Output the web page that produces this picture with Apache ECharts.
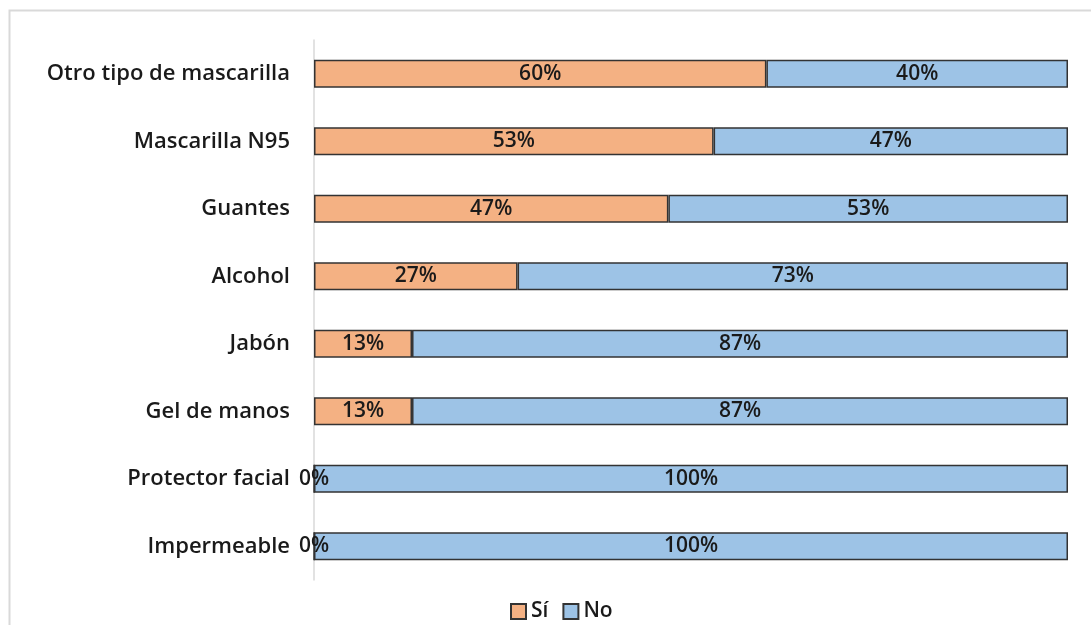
<!DOCTYPE html>
<html>
<head>
<meta charset="utf-8">
<script src="https://cdn.jsdelivr.net/npm/echarts@6/dist/echarts.min.js"></script>
<style>
html,body{margin:0;padding:0;background:#fff;}
#c{width:1091px;height:625px;}
</style>
</head>
<body>
<div id="c"></div>
<script>
const categories = ["Otro tipo de mascarilla","Mascarilla N95","Guantes","Alcohol","Jabón","Gel de manos","Protector facial","Impermeable"];
const siValues = [60,53,47,27,13,13,0,0];
const noValues = [40,47,53,73,87,87,100,100];
const seriesNames = ["Sí","No"];

const chart = echarts.init(document.getElementById('c'));
const font = "'Open Sans', 'Noto Sans', sans-serif";
const labelStyle = {
  show: true, position: 'inside', formatter: '{c}%',
  color: '#1a1a1a', fontFamily: font, fontSize: 21, fontWeight: 600
};
chart.setOption({
  animation: false,
  backgroundColor: '#fff',
  graphic: [{
    type: 'rect', shape: {x: 9.5, y: 10.5, width: 1200, height: 800},
    style: {fill: 'none', stroke: '#d9d9d9', lineWidth: 2}, silent: true, z: -10
  }],
  grid: {left: 314, right: 23, top: 40, bottom: 45},
  xAxis: {type: 'value', min: 0, max: 100, show: false},
  yAxis: {
    type: 'category', data: categories, inverse: true,
    axisLine: {show: true, lineStyle: {color: '#d9d9d9', width: 1.5}},
    axisTick: {show: false},
    axisLabel: {color: '#1a1a1a', fontFamily: font, fontSize: 22, fontWeight: 600, margin: 24}
  },
  legend: {
    bottom: -2, left: 505, itemWidth: 15, itemHeight: 15, itemGap: 14,
    icon: 'rect',
    textStyle: {color: '#1a1a1a', fontFamily: font, fontSize: 21, fontWeight: 600},
    data: seriesNames
  },
  series: [
    {name: seriesNames[0], type: 'bar', stack: 't', data: siValues, barWidth: 28,
     itemStyle: {color: '#F4B183', borderColor: '#333', borderWidth: 1.5},
     label: labelStyle},
    {name: seriesNames[1], type: 'bar', stack: 't', data: noValues, barWidth: 28,
     itemStyle: {color: '#9DC3E6', borderColor: '#333', borderWidth: 1.5},
     label: labelStyle}
  ]
});
</script>
</body>
</html>
